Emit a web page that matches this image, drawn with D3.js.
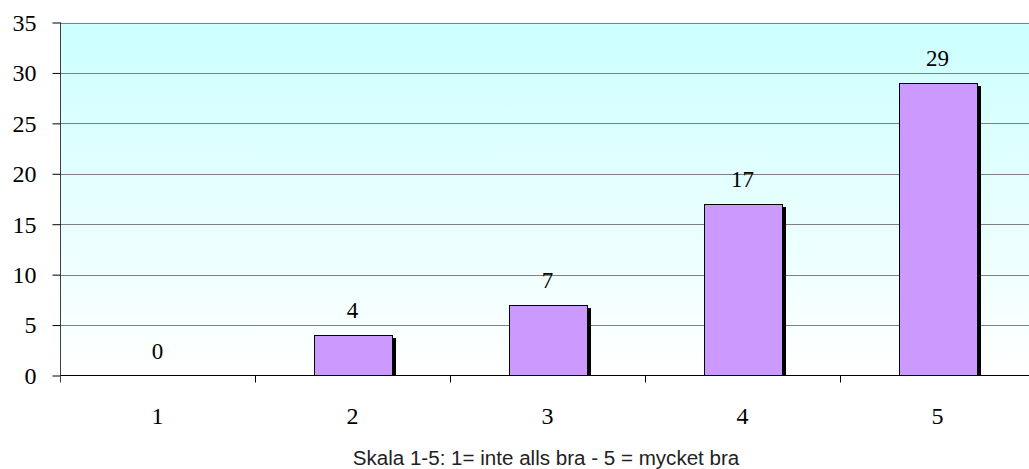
<!DOCTYPE html>
<html><head><meta charset="utf-8">
<script src="https://cdn.jsdelivr.net/npm/d3@7"></script>
<style>body{margin:0;background:#fff}svg{display:block}</style>
</head><body>
<svg id="c" width="1029" height="469"></svg>
<script>
const categories = ["1","2","3","4","5"];
const values = [0,4,7,17,29];
const yTicks = [0,5,10,15,20,25,30,35];
const xTitle = "Skala 1-5: 1= inte alls bra - 5 = mycket bra";

(function(){
const svg = d3.select("#c");
const pLeft = 60, pRight = 1035, pTop = 22.5, pBottom = 375.5;
const xb = d3.scaleBand().domain(categories).range([pLeft, pRight]);
const y = d3.scaleLinear().domain([0,35]).range([pBottom, pTop]);
const serif = "Liberation Serif, Times New Roman, serif";

const defs = svg.append("defs");
const g = defs.append("linearGradient").attr("id","bg").attr("x1",0).attr("y1",0).attr("x2",0).attr("y2",1);
g.append("stop").attr("offset","0%").attr("stop-color","#ccffff");
g.append("stop").attr("offset","100%").attr("stop-color","#ffffff");
svg.append("rect").attr("x",pLeft).attr("y",pTop).attr("width",pRight-pLeft).attr("height",pBottom-pTop).attr("fill","url(#bg)");

// gridlines
svg.append("g").selectAll("line").data(yTicks.filter(d=>d>0)).join("line")
  .attr("x1",pLeft).attr("x2",pRight).attr("y1",d=>Math.round(y(d))+0.5).attr("y2",d=>Math.round(y(d))+0.5)
  .attr("stroke","#7f7f7f").attr("stroke-width",1);

// bars: shadow then bar
const bw = 78;
const bx = i => Math.round(xb(categories[i])+xb.bandwidth()/2-bw/2);
const bars = svg.append("g");
bars.selectAll("rect.sh").data(values).join("rect").attr("class","sh")
  .attr("x",(d,i)=>bx(i)+4)
  .attr("y",d=>Math.round(y(d))+3)
  .attr("width",bw).attr("height",d=>Math.max(0,pBottom-Math.round(y(d))-3))
  .attr("fill","#000").attr("display",d=>d>0?null:"none");
bars.selectAll("rect.b").data(values).join("rect").attr("class","b")
  .attr("x",(d,i)=>bx(i)+0.5)
  .attr("y",d=>Math.round(y(d))+0.5)
  .attr("width",bw).attr("height",d=>pBottom-0.5-Math.round(y(d)))
  .attr("fill","#cc99ff").attr("stroke","#000").attr("stroke-width",1)
  .attr("display",d=>d>0?null:"none");

// value labels
svg.append("g").selectAll("text").data(values).join("text")
  .attr("x",(d,i)=>xb(categories[i])+xb.bandwidth()/2)
  .attr("y",d=>y(d)-17)
  .attr("text-anchor","middle")
  .attr("font-family",serif).attr("font-size",23).attr("fill","#000")
  .text(d=>d);

// y axis
const ya = svg.append("g").attr("transform",`translate(${pLeft+0.5},0)`)
  .call(d3.axisLeft(y).tickValues(yTicks).tickSize(8).tickFormat(d3.format("d")));
ya.select(".domain").attr("stroke","#404040").attr("d",`M0,${pTop}V${pBottom}`);
ya.selectAll(".tick line").attr("stroke","#000");
ya.selectAll(".tick text").attr("font-family",serif).attr("font-size",24).attr("fill","#000").attr("dy","0.33em").attr("x",-24);

// x axis
const xa = svg.append("g").attr("transform",`translate(0,${pBottom})`);
xa.append("line").attr("x1",pLeft).attr("x2",pRight).attr("stroke","#000");
xa.selectAll("line.t").data(categories.slice(1)).join("line").attr("class","t")
  .attr("x1",d=>Math.round(xb(d))+0.5).attr("x2",d=>Math.round(xb(d))+0.5).attr("y1",0).attr("y2",7).attr("stroke","#000");
xa.append("line").attr("x1",pLeft+0.5).attr("x2",pLeft+0.5).attr("y1",0).attr("y2",7).attr("stroke","#404040");
xa.selectAll("text.xl").data(categories).join("text").attr("class","xl")
  .attr("x",d=>xb(d)+xb.bandwidth()/2).attr("y",48.5)
  .attr("text-anchor","middle").attr("font-family",serif).attr("font-size",24).attr("fill","#000")
  .text(d=>d);

const t = svg.append("text").attr("x",546).attr("y",465).attr("text-anchor","middle")
  .attr("font-family","Liberation Sans, Arial, sans-serif").attr("font-size",20).attr("fill","#222")
  .text(xTitle);
const w = t.node().getComputedTextLength();
t.attr("font-size", 20*387/w);
})();
</script>
</body></html>
